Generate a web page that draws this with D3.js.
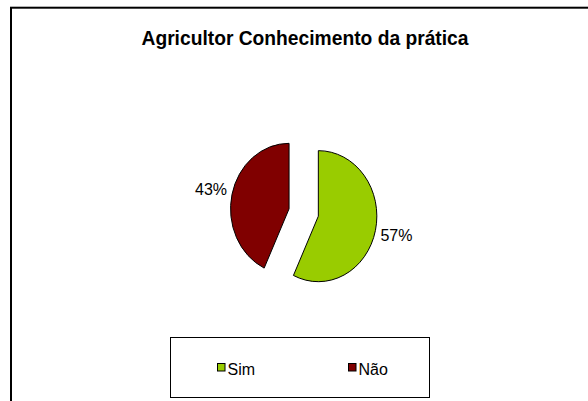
<!DOCTYPE html>
<html>
<head>
<meta charset="utf-8">
<script src="https://cdn.jsdelivr.net/npm/d3@7"></script>
<style>
  html, body { margin: 0; padding: 0; background: #fff; }
  svg { display: block; font-family: "Liberation Sans", Arial, sans-serif; }
</style>
</head>
<body>
<div id="chart"></div>
<script>
const title = "Agricultor Conhecimento da prática"
const categories = ["Sim", "Não"]
const values = [57, 43]

const width = 588
const height = 401

const svg = d3.select("#chart")
    .append("svg")
    .attr("width", width)
    .attr("height", height)

// chart frame (runs off the right and bottom of the picture)
svg.append("rect")
    .attr("x", 11)
    .attr("y", 7.7)
    .attr("width", 700)
    .attr("height", 500)
    .attr("fill", "none")
    .attr("stroke", "#000")
    .attr("stroke-width", 2)

svg.append("text")
    .attr("x", 305)
    .attr("y", 45)
    .attr("text-anchor", "middle")
    .attr("font-size", 21)
    .attr("font-weight", "bold")
    .attr("textLength", 327)
    .attr("lengthAdjust", "spacingAndGlyphs")
    .text(title)

const color = d3.scaleOrdinal()
    .domain(categories)
    .range(["#99CC00", "#800000"])

const data = categories.map((c, i) => ({ key: c, value: values[i] }))

const pie = d3.pie()
    .sort(null)
    .value(d => d.value)

const r = 58.5
const sy = 1.12
const explode = 15
const labelR = 95

const arc = d3.arc().innerRadius(0).outerRadius(r)
const arcs = pie(data)

const g = svg.append("g")
    .attr("transform", `translate(303.7, 212.5) scale(1, ${sy})`)

const mid = d => (d.startAngle + d.endAngle) / 2

g.selectAll("path")
    .data(arcs)
    .join("path")
    .attr("d", arc)
    .attr("transform", d => `translate(${Math.sin(mid(d)) * explode}, ${-Math.cos(mid(d)) * explode})`)
    .attr("fill", d => color(d.data.key))
    .attr("stroke", "#000")
    .attr("stroke-width", 1)
    .attr("vector-effect", "non-scaling-stroke")

svg.append("g")
    .attr("transform", "translate(303.7, 212.5)")
    .selectAll("text")
    .data(arcs)
    .join("text")
    .attr("x", d => Math.sin(mid(d)) * labelR)
    .attr("y", d => -Math.cos(mid(d)) * labelR * sy)
    .attr("dy", "0.35em")
    .attr("text-anchor", "middle")
    .attr("font-size", 16)
    .attr("fill", "#000")
    .text(d => d3.format(".0%")(d.data.value / d3.sum(values)))

// legend
const legend = svg.append("g")

legend.append("rect")
    .attr("x", 170.5)
    .attr("y", 337.5)
    .attr("width", 259)
    .attr("height", 60)
    .attr("fill", "#fff")
    .attr("stroke", "#000")
    .attr("stroke-width", 1)

const lx = d3.scalePoint()
    .domain(categories)
    .range([217, 348])

const item = legend.selectAll("g.item")
    .data(categories)
    .join("g")
    .attr("class", "item")
    .attr("transform", d => `translate(${lx(d)}, 363)`)

item.append("rect")
    .attr("x", 0.5)
    .attr("y", 0.5)
    .attr("width", 7.5)
    .attr("height", 7.5)
    .attr("fill", d => color(d))
    .attr("stroke", "#000")
    .attr("stroke-width", 1)

item.append("text")
    .attr("x", 10.5)
    .attr("y", 11.5)
    .attr("font-size", 16)
    .attr("fill", "#000")
    .text(d => d)
</script>
</body>
</html>
